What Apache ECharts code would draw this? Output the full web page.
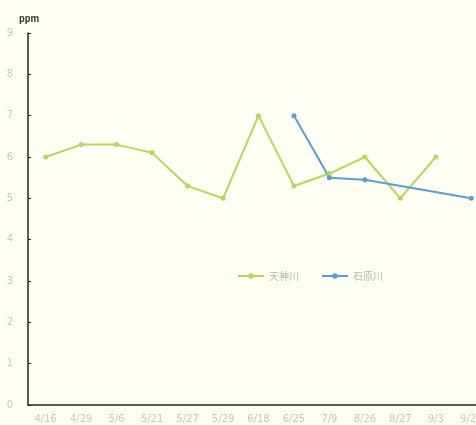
<!DOCTYPE html>
<html>
<head>
<meta charset="utf-8">
<script src="https://cdn.jsdelivr.net/npm/echarts@6/dist/echarts.min.js"></script>
<style>
  html, body { margin: 0; padding: 0; background: #fefef3; overflow: hidden; }
  /* the plot runs past the right edge of the page */
  #chart { width: 489px; height: 425px; }
</style>
</head>
<body>
<div id="chart"></div>
<script>
// Sampling dates (x axis)
const dates = ['4/16', '4/29', '5/6', '5/21', '5/27', '5/29', '6/18', '6/25', '7/9', '8/26', '8/27', '9/3', '9/24'];
// Concentration readings in ppm; null where a river was not sampled
const tenjingawa = [6.0, 6.3, 6.3, 6.1, 5.3, 5.0, 7.0, 5.3, 5.6, 6.0, 5.0, 6.0, null];
const ishiharagawa = [null, null, null, null, null, null, null, 7.0, 5.5, 5.45, null, null, 5.0];
const yTicks = [0, 1, 2, 3, 4, 5, 6, 7, 8, 9];

const chart = echarts.init(document.getElementById('chart'));
const labelColor = '#c8c8c0';
const font = '"Noto Sans CJK JP", "DejaVu Sans", sans-serif';

chart.setOption({
  backgroundColor: '#fefef3',
  animation: false,
  grid: { left: 28, top: 33, right: 0, bottom: 20 },
  title: {
    text: 'ppm', left: 14, top: 9,
    textStyle: { fontSize: 9, fontWeight: 'bold', color: '#333', fontFamily: font }
  },
  legend: {
    left: 232, top: 266,
    itemWidth: 26, itemHeight: 7, itemGap: 22,
    textStyle: { color: '#b8b8b0', fontSize: 10, fontFamily: font },
    data: ['天神川', '石原川']
  },
  xAxis: {
    type: 'category',
    data: dates,
    boundaryGap: true,
    axisLine: { lineStyle: { color: '#222', width: 1.5 } },
    axisTick: { inside: true, alignWithLabel: true, length: 3, lineStyle: { color: '#222' } },
    axisLabel: { color: labelColor, fontSize: 10, margin: 9, fontFamily: 'DejaVu Sans' }
  },
  yAxis: {
    type: 'value',
    min: yTicks[0], max: yTicks[yTicks.length - 1], interval: 1,
    splitLine: { show: false },
    axisLine: { show: true, lineStyle: { color: '#222', width: 1.5 } },
    axisTick: { show: true, inside: true, length: 3, lineStyle: { color: '#222' } },
    axisLabel: { color: labelColor, fontSize: 10, margin: 15, fontFamily: 'DejaVu Sans' }
  },
  series: [
    {
      name: '天神川', type: 'line', data: tenjingawa,
      connectNulls: true,
      symbol: 'circle', symbolSize: 5,
      itemStyle: { color: '#b7d65c' },
      lineStyle: { color: '#b7d65c', width: 2 }
    },
    {
      name: '石原川', type: 'line', data: ishiharagawa,
      connectNulls: true,
      symbol: 'circle', symbolSize: 5,
      itemStyle: { color: '#5a9ed2' },
      lineStyle: { color: '#5a9ed2', width: 2 }
    }
  ]
});
</script>
</body>
</html>
